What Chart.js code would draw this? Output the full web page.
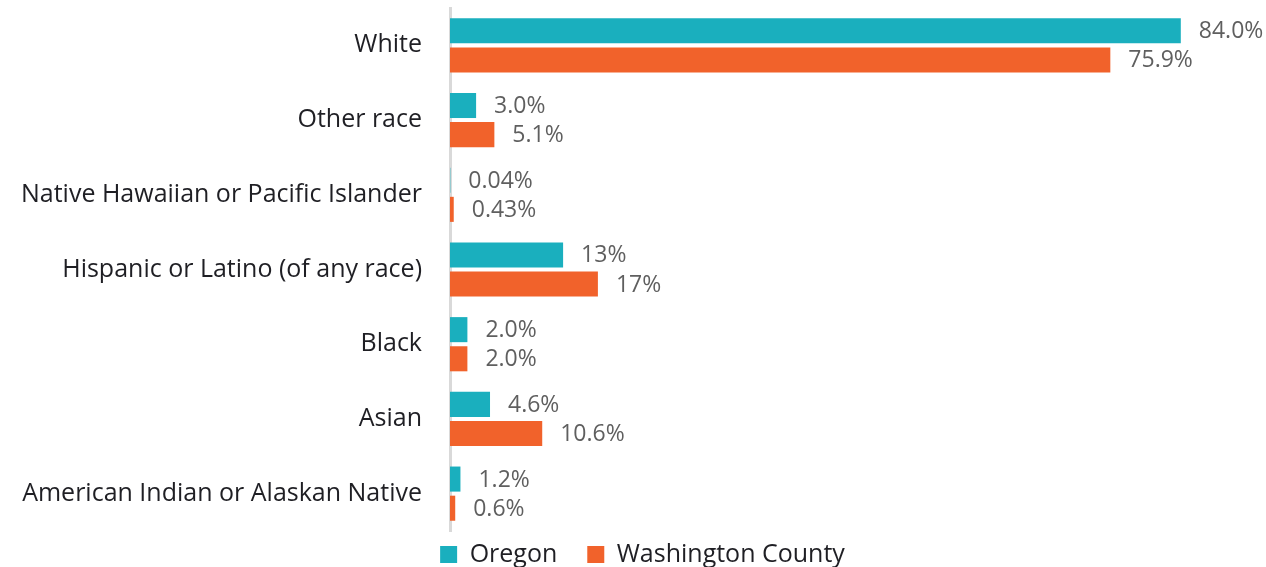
<!DOCTYPE html>
<html>
<head>
<meta charset="utf-8">
<script src="https://cdn.jsdelivr.net/npm/chart.js@4"></script>
<style>
  html, body { margin: 0; padding: 0; background: #fff; }
  #wrap { width: 1266px; height: 567px; }
</style>
</head>
<body>
<div id="wrap"><canvas id="raceChart" width="1266" height="567"></canvas></div>
<script>
const categories = [
  "White",
  "Other race",
  "Native Hawaiian or Pacific Islander",
  "Hispanic or Latino (of any race)",
  "Black",
  "Asian",
  "American Indian or Alaskan Native"
];
const oregonValues = [84.0, 3.0, 0.04, 13, 2.0, 4.6, 1.2];
const washingtonValues = [75.9, 5.1, 0.43, 17, 2.0, 10.6, 0.6];
const oregonLabels = ["84.0%", "3.0%", "0.04%", "13%", "2.0%", "4.6%", "1.2%"];
const washingtonLabels = ["75.9%", "5.1%", "0.43%", "17%", "2.0%", "10.6%", "0.6%"];

const FONT = "'Open Sans', 'Noto Sans', sans-serif";

// draws the value text just past the end of each bar
const valueLabels = {
  id: "valueLabels",
  afterDatasetsDraw(chart) {
    const ctx = chart.ctx;
    const allLabels = [oregonLabels, washingtonLabels];
    ctx.save();
    ctx.font = "23px " + FONT;
    ctx.fillStyle = "#5f5f5f";
    ctx.textBaseline = "middle";
    ctx.textAlign = "left";
    chart.data.datasets.forEach((ds, i) => {
      const meta = chart.getDatasetMeta(i);
      meta.data.forEach((bar, j) => {
        ctx.fillText(allLabels[i][j], bar.x + 18, bar.y + 1);
      });
    });
    ctx.restore();
  }
};

// keep the legend strip short but leave wide gaps between its items
const legendSqueeze = {
  id: "legendSqueeze",
  afterInit(chart) {
    const lg = chart.legend;
    const origFit = lg.fit;
    lg.fit = function () {
      origFit.call(this);
      if (this.height) this.height = 36;
    };
  },
  afterLayout(chart) {
    chart.legend.top -= 19;
    chart.legend.left += 26;
    chart.legend.right += 26;
  }
};

const ctx = document.getElementById("raceChart").getContext("2d");
new Chart(ctx, {
  type: "bar",
  data: {
    labels: categories,
    datasets: [
      {
        label: "Oregon",
        data: oregonValues,
        backgroundColor: "#1AAFBE",
        barPercentage: 0.86,
        categoryPercentage: 0.78
      },
      {
        label: "Washington County",
        data: washingtonValues,
        backgroundColor: "#F1622B",
        barPercentage: 0.86,
        categoryPercentage: 0.78
      }
    ]
  },
  options: {
    indexAxis: "y",
    responsive: false,
    animation: false,
    layout: { padding: { top: 8, right: 33, left: 0, bottom: 0 } },
    scales: {
      x: {
        display: false,
        min: 0,
        max: 90
      },
      y: {
        afterFit: (scale) => {
          scale.width = 450;
          scale.paddingTop = 0;
          scale.paddingBottom = 0;
        },
        grid: { display: false },
        border: { display: true, color: "#d9d9d9", width: 3 },
        ticks: {
          color: "#1f1f24",
          padding: 20,
          font: { family: FONT, size: 25 }
        }
      }
    },
    plugins: {
      tooltip: { enabled: false },
      legend: {
        position: "bottom",
        labels: {
          color: "#1f1f24",
          boxWidth: 17,
          boxHeight: 17,
          padding: 30,
          font: { family: FONT, size: 25 }
        }
      }
    }
  },
  plugins: [valueLabels, legendSqueeze]
});
</script>
</body>
</html>
